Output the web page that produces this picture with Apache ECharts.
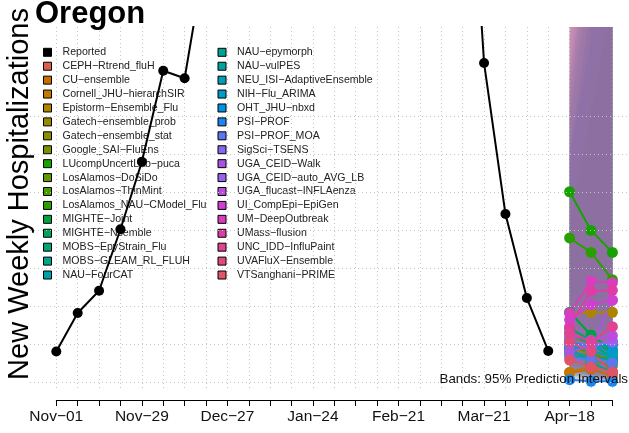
<!DOCTYPE html>
<html><head><meta charset="utf-8">
<script src="https://cdn.jsdelivr.net/npm/echarts@6/dist/echarts.min.js"></script>
<style>html,body{margin:0;padding:0;background:#fff}#c{width:629px;height:433px}</style>
</head><body><div id="c"></div>
<script>
// ---------- data ----------
const TITLE = 'Oregon';
const Y_LABEL = 'New Weekly Hospitalizations';
const BAND_NOTE = 'Bands: 95% Prediction Intervals';
const WEEK_LABELS = ['Nov−01','Nov−08','Nov−15','Nov−22','Nov−29','Dec−06','Dec−13','Dec−20','Dec−27',
  'Jan−03','Jan−10','Jan−17','Jan−24','Jan−31','Feb−07','Feb−14','Feb−21','Feb−28','Mar−07','Mar−14',
  'Mar−21','Mar−28','Apr−04','Apr−11','Apr−18','Apr−25','May−02'];
const LABEL_EVERY = 4;
const REPORTED = [40.2, 91.0, 120.4, 201.5, 290.6, 410.7, 400.7, 567, 820, 1050, 980, 900, 860, 900,
  980, 1040, 1060, 1020, 950, 860, 420.8, 221.6, 110.8, 40.9];
const FORECAST_WEEKS = [24, 25, 26];
const MODELS = ['CEPH−Rtrend_fluH','CU−ensemble','Cornell_JHU−hierarchSIR','Epistorm−Ensemble_Flu',
  'Gatech−ensemble_prob','Gatech−ensemble_stat','Google_SAI−FluEns','LUcompUncertLab−puca',
  'LosAlamos−DoSiDo','LosAlamos−ThinMint','LosAlamos_NAU−CModel_Flu','MIGHTE−Joint','MIGHTE−Nsemble',
  'MOBS−EpyStrain_Flu','MOBS−GLEAM_RL_FLUH','NAU−FourCAT','NAU−epymorph','NAU−vulPES',
  'NEU_ISI−AdaptiveEnsemble','NIH−Flu_ARIMA','OHT_JHU−nbxd','PSI−PROF','PSI−PROF_MOA','SigSci−TSENS',
  'UGA_CEID−Walk','UGA_CEID−auto_AVG_LB','UGA_flucast−INFLAenza','UI_CompEpi−EpiGen','UM−DeepOutbreak',
  'UMass−flusion','UNC_IDD−InfluPaint','UVAFluX−Ensemble','VTSanghani−PRIME'];
const MODEL_COLORS = ['#DC5F4C','#C96D00','#C47800','#AD8400','#9B8A00','#8A8F00','#779300','#16A200',
  '#629700','#4A9B00','#2A9F00','#00A23F','#00A45C','#00A476','#00A38C','#00A0A8','#00A296','#00A19F',
  '#00A0B2','#009CC8','#0093E0','#1A85F0','#5C78F0','#8668F0','#A955E0','#9862EC','#BA4DE0','#D03FD0',
  '#D93CBC','#DE3DA8','#E04294','#E14A7E','#E05468'];
const MEDIAN = [[40,42,49],[12,17,8],[13,21,13],[91,92,92],[51,40,34],[46,36,29],[58,49,42],[251,200,171],
  [42,29,21],[49,37,29],[190,171,135],[92,62,42],[71,55,40],[65,49,33],[45,26,13],[55,42,32],[36,29,25],
  [40,33,29],[49,40,34],[42,47,40],[53,46,49],[3,1,1],[33,29,25],[49,46,54],[40,47,108],[55,49,53],
  [62,55,61],[82,102,108],[91,133,131],[73,120,121],[65,53,73],[53,40,13],[29,20,13]];
const LOWER = [[15,10,8],[2,1,0],[3,2,1],[40,30,25],[20,12,8],[18,10,6],[22,15,10],[120,80,60],[12,6,3],
  [15,8,5],[80,55,35],[35,20,10],[25,15,8],[20,10,5],[10,3,0],[18,10,5],[8,3,1],[10,5,2],[15,8,4],[10,5,2],
  [15,8,4],[0,0,0],[5,2,0],[12,6,3],[8,4,2],[15,8,4],[20,10,6],[25,20,15],[30,35,30],[25,30,25],[15,8,5],
  [10,5,1],[5,2,0]];
const UPPER = [[450,700,950],[200,350,500],[380,600,850],[300,480,650],[250,400,560],[220,360,520],
  [500,750,1000],[560,650,750],[300,500,700],[350,550,800],[480,560,620],[400,600,800],[350,520,700],
  [320,500,700],[280,460,650],[380,560,760],[420,650,900],[360,600,850],[450,700,950],[300,450,600],
  [400,600,800],[300,500,700],[350,550,750],[550,800,1100],[400,700,1000],[450,700,1000],[500,800,1100],
  [600,900,1200],[700,1000,1300],[650,950,1300],[700,1000,1400],[600,900,1200],[500,800,1100]];
const GRID_Y = [0, 50, 100, 150, 200, 250, 300, 350];

// ---------- layout ----------
const W = 629, H = 433;
const PLOT_TOP = 27, PLOT_BOTTOM = 390, PLOT_LEFT = 30, PLOT_RIGHT = 628;
const X_FIRST_PX = 56.3, X_LAST_PX = 612.4, N_WEEKS = WEEK_LABELS.length - 1;
const Y0_PX = 382, PX_PER_UNIT = 37.9 / 50;
const pxPerWeek = (X_LAST_PX - X_FIRST_PX) / N_WEEKS;
const XMIN = -(X_FIRST_PX - PLOT_LEFT) / pxPerWeek;
const XMAX = N_WEEKS + (PLOT_RIGHT - X_LAST_PX) / pxPerWeek;
const YMIN = -(PLOT_BOTTOM - Y0_PX) / PX_PER_UNIT;
const YMAX = (Y0_PX - PLOT_TOP) / PX_PER_UNIT;
const FONT = '"Liberation Sans", Arial, Helvetica, sans-serif';
const GRID_COLOR = '#c4c4c4';

const chart = echarts.init(document.getElementById('c'), null, {renderer: 'canvas', width: W, height: H});

const series = [];
series.push({
  type: 'line', xAxisIndex: 0, yAxisIndex: 0, data: [], silent: true, z: 0,
  markLine: {silent: true, symbol: ['none', 'none'], label: {show: false}, animation: false,
    lineStyle: {color: GRID_COLOR, type: [1, 3], width: 1},
    data: GRID_Y.map(v => ({yAxis: v}))}
});
series.push({
  type: 'custom', xAxisIndex: 0, yAxisIndex: 0, clip: true, silent: true, z: 1,
  data: MODELS.map((m, i) => [i]),
  renderItem: function (params, api) {
    const i = api.value(0);
    const pts = [];
    FORECAST_WEEKS.forEach((w, k) => pts.push(api.coord([w, UPPER[i][k]])));
    for (let k = FORECAST_WEEKS.length - 1; k >= 0; k--) pts.push(api.coord([FORECAST_WEEKS[k], LOWER[i][k]]));
    return {type: 'polygon', shape: {points: pts}, style: {fill: MODEL_COLORS[i], opacity: 0.08}};
  }
});
MODELS.forEach((m, i) => {
  series.push({
    name: m, type: 'line', xAxisIndex: 0, yAxisIndex: 0, clip: true, z: 3,
    data: FORECAST_WEEKS.map((w, k) => [w, MEDIAN[i][k]]),
    color: MODEL_COLORS[i], symbol: 'circle', symbolSize: 11, showSymbol: true,
    lineStyle: {width: 2, color: MODEL_COLORS[i]}, itemStyle: {color: MODEL_COLORS[i]}
  });
});
series.push({
  name: 'Reported', type: 'line', xAxisIndex: 0, yAxisIndex: 0, clip: true, z: 5,
  data: REPORTED.map((v, k) => [k, v]), color: '#000',
  symbol: 'circle', symbolSize: 10, lineStyle: {width: 2, color: '#000'}, itemStyle: {color: '#000'}
});

const legendBase = {
  orient: 'vertical', itemWidth: 8, itemHeight: 8, itemGap: 1.92, icon: 'rect', padding: 0,
  selectedMode: false, itemStyle: {borderColor: '#000', borderWidth: 1},
  textStyle: {fontSize: 10.6, color: '#222', fontFamily: FONT, lineHeight: 12, padding: [0, 0, 0, 6]}
};

chart.setOption({
  animation: false,
  backgroundColor: '#fff',
  title: {text: TITLE, left: 35, top: -1, padding: 0,
    textStyle: {fontSize: 31, fontWeight: 'bold', color: '#000', fontFamily: FONT}},
  grid: [
    {left: PLOT_LEFT, right: W - PLOT_RIGHT, top: PLOT_TOP, bottom: H - PLOT_BOTTOM,
      containLabel: false, outerBoundsMode: 'none'},
    {left: X_FIRST_PX, right: W - X_LAST_PX, top: PLOT_TOP, bottom: H - PLOT_BOTTOM,
      containLabel: false, outerBoundsMode: 'none'}
  ],
  xAxis: [
    {gridIndex: 0, type: 'value', min: XMIN, max: XMAX, show: false},
    {gridIndex: 1, type: 'value', min: 0, max: N_WEEKS, interval: 1, offset: 10,
      axisLine: {show: true, onZero: false, lineStyle: {color: '#000', width: 1}},
      axisTick: {show: true, length: 6, lineStyle: {color: '#000', width: 1}},
      axisLabel: {show: true, margin: 9, fontSize: 15.5, color: '#111', fontFamily: FONT,
        formatter: v => (v % LABEL_EVERY === 0 ? WEEK_LABELS[v] : '')},
      splitLine: {show: true, lineStyle: {color: GRID_COLOR, type: [1, 3], width: 1}}}
  ],
  yAxis: [
    {gridIndex: 0, type: 'value', min: YMIN, max: YMAX, show: false},
    {gridIndex: 1, type: 'value', min: YMIN, max: YMAX, show: false}
  ],
  legend: [
    Object.assign({}, legendBase, {left: 43, top: 46.3, data: ['Reported'].concat(MODELS.slice(0, 16))}),
    Object.assign({}, legendBase, {left: 217.5, top: 46.3, data: MODELS.slice(16)})
  ],
  graphic: [
    {type: 'text', x: 20, y: 194, rotation: Math.PI / 2, z: 100,
      style: {text: Y_LABEL, fontSize: 29, fontFamily: FONT, fill: '#000', align: 'center', verticalAlign: 'middle'}},
    {type: 'text', right: 1, top: 373, z: 100,
      style: {text: BAND_NOTE, fontSize: 13.3, fontFamily: FONT, fill: '#111'}}
  ],
  series: series
});
</script></body></html>
